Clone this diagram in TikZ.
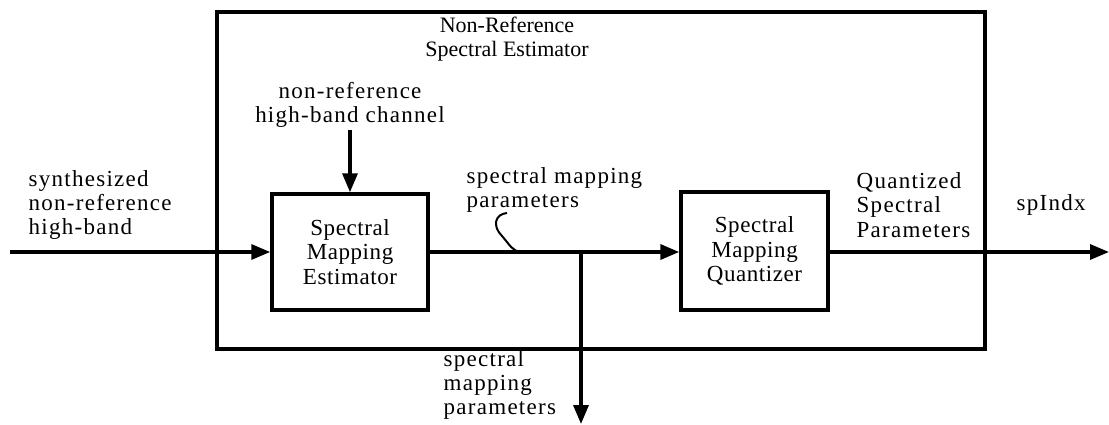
\documentclass[tikz,border=0pt]{standalone}
\usepackage{fontspec}
\setmainfont{Liberation Serif}
\newfontfamily\spaced{Liberation Serif}[LetterSpace=5.5]
\newfontfamily\boxspaced{Liberation Serif}[LetterSpace=2.5]
\usetikzlibrary{arrows.meta}
\begin{document}
\begin{tikzpicture}[x=1pt,y=-1pt,
  line width=3.4pt,
  arr/.style={-{Triangle[length=19pt,width=15pt]}},
  blk/.style={draw,line width=3.4pt,inner sep=0pt,font=\boxspaced\fontsize{23}{24.5}\selectfont,align=center},
  lbl/.style={inner sep=0pt,font=\spaced\fontsize{23}{24.3}\selectfont},
  ttl/.style={inner sep=0pt,font=\fontsize{22}{23.5}\selectfont,align=center}]
\useasboundingbox (0,0) rectangle (1109,425);
% outer box
\draw (217,12) rectangle (985,349);
\node[ttl] (title) at (507,39) {Non-Reference\\Spectral Estimator};
% blocks
\node[blk,minimum width=156pt,minimum height=116pt] (sme) at (350,252) {Spectral\\Mapping\\Estimator};
\node[blk,minimum width=147pt,minimum height=118pt] (smq) at (754.5,251) {Spectral\\Mapping\\Quantizer};
% labels
\node[lbl,align=center] (toplbl) at (350,105) {non-reference\\high-band channel};
\node[lbl,align=left,anchor=west] (inlbl) at (27,205) {synthesized\\non-reference\\high-band};
\node[lbl,align=left,anchor=west] (midlbl) at (465,190) {spectral mapping\\parameters};
\node[lbl,align=left,anchor=west] (qlbl) at (855,205) {Quantized\\Spectral\\Parameters};
\node[lbl,anchor=west] (outlbl) at (1015,205) {spIndx};
\node[lbl,align=left,anchor=west] (botlbl) at (442,385) {spectral\\mapping\\parameters};
% coordinates
\coordinate (inS) at (10,252);
\coordinate (topS) at (350,130);
\coordinate (br) at (581,252);
\coordinate (brE) at (581,424);
\coordinate (outE) at (1109,252);
% connectors
\draw[arr] (inS) -- (sme.west |- inS);
\draw[arr] (topS) -- (sme.north);
\draw[arr] (sme.east |- br) -- (smq.west |- br);
\draw[arr] (br) -- (brE);
\draw[arr] (smq.east |- outE) -- (outE);
% squiggle
\draw[line width=2pt] (507,213) .. controls (495,214) and (492,226) .. (502,236) .. controls (510,245) and (512,251) .. (521,252);
\end{tikzpicture}
\end{document}
